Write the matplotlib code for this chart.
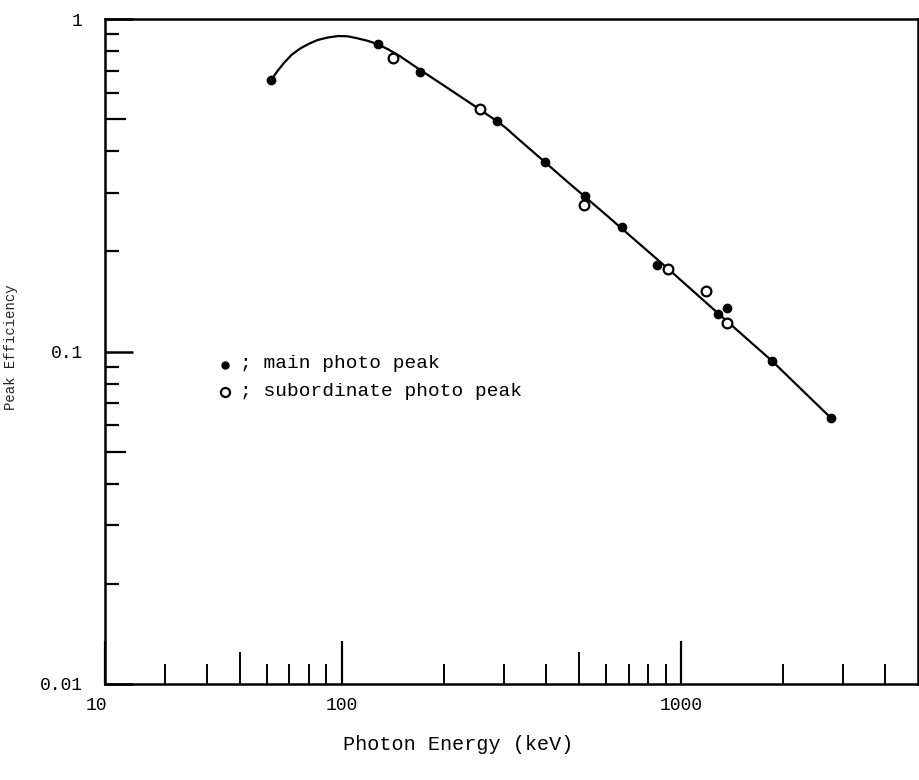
import matplotlib
matplotlib.use("Agg")
import matplotlib.pyplot as plt
from matplotlib.ticker import FixedLocator, NullFormatter

# ---- data ----
main_energy = [61.8, 127.6, 170, 287, 397, 520, 670, 848, 1288, 1365, 1859, 2768]
main_eff = [0.655, 0.839, 0.691, 0.493, 0.371, 0.294, 0.237, 0.182, 0.130, 0.135, 0.0938, 0.0631]

sub_energy = [141, 256, 517, 913, 1184, 1371]
sub_eff = [0.762, 0.536, 0.276, 0.177, 0.152, 0.122]

curve_energy = [61.8, 64.5, 67.3, 71.0, 75.4, 80.0, 84.8, 91.0, 97.7, 104, 111, 119, 127, 137, 148,
                170, 204, 256, 287, 305, 330, 397, 459, 600, 912, 1300, 1859, 2768]
curve_eff = [0.655, 0.697, 0.736, 0.780, 0.816, 0.843, 0.865, 0.880, 0.889, 0.887, 0.875, 0.860, 0.841, 0.810, 0.774,
             0.703, 0.622, 0.533, 0.492, 0.4695, 0.437, 0.371, 0.326, 0.258, 0.178, 0.129, 0.0935, 0.0631]

x_tick_values = [20, 100, 1000]
x_tick_labels = ["", "100", "1000"]
x_left_label = "10"
x_mid_ticks = [50, 500]
x_minor_ticks = [30, 40, 60, 70, 80, 90, 200, 300, 400, 600, 700, 800, 900, 2000, 3000, 4000]
y_tick_values = [1, 0.1, 0.01]
y_tick_labels = ["1", "0.1", "0.01"]
y_mid_ticks = [0.05, 0.5]
y_minor_ticks = [0.02, 0.03, 0.04, 0.06, 0.07, 0.08, 0.09, 0.2, 0.3, 0.4, 0.6, 0.7, 0.8, 0.9]

W, H = 919, 780
fig = plt.figure(figsize=(W / 100, H / 100), dpi=100)
left, right, top, bottom = 105, 918, 19, 684
ax = fig.add_axes([left / W, 1 - bottom / H, (right - left) / W, (bottom - top) / H])

mono = "Liberation Mono"

ax.plot(curve_energy, curve_eff, color="black", lw=1.6, zorder=2)
ax.plot(main_energy, main_eff, "o", color="black", ms=6, zorder=3)
ax.plot(sub_energy, sub_eff, "o", mfc="white", mec="black", mew=1.6, ms=7, zorder=3)

ax.set_xscale("log")
ax.set_yscale("log")
ax.set_xlim(20, 5000)
ax.set_ylim(0.01, 1)

for s in ax.spines.values():
    s.set_linewidth(1.8)

# x ticks
ax.xaxis.set_major_locator(FixedLocator(x_tick_values))
ax.set_xticklabels(x_tick_labels, fontfamily=mono, fontsize=13)
ax.xaxis.set_minor_locator(FixedLocator(x_minor_ticks))
ax.xaxis.set_minor_formatter(NullFormatter())
ax.tick_params(axis="x", which="major", direction="in", length=31, width=1.6, pad=9)
ax.tick_params(axis="x", which="minor", direction="in", length=14.5, width=1.4)
for xv in x_mid_ticks:
    ax.axvline(xv, ymin=0, ymax=31 / (bottom - top), color="black", lw=1.4)

# y ticks
ax.yaxis.set_major_locator(FixedLocator(y_tick_values))
ax.set_yticklabels(y_tick_labels, fontfamily=mono, fontsize=13)
ax.yaxis.set_minor_locator(FixedLocator(y_minor_ticks))
ax.yaxis.set_minor_formatter(NullFormatter())
ax.tick_params(axis="y", which="major", direction="in", length=20, width=1.8, pad=16)
ax.tick_params(axis="y", which="minor", direction="in", length=10, width=1.6)
for yv in y_mid_ticks:
    ax.axhline(yv, xmin=0, xmax=20 / (right - left), color="black", lw=1.6)

# left-end x label, set a little low like a subscript
fig.text(96 / W, 1 - 705 / H, x_left_label, fontfamily=mono, fontsize=13,
         ha="center", va="center")

# legend drawn as text
ax.plot([225 / W], [1 - 365 / H], "o", color="black", ms=5, transform=fig.transFigure, clip_on=False)
fig.text(240 / W, 1 - 364 / H, "; main photo peak", fontfamily=mono, fontsize=14,
         ha="left", va="center")
ax.plot([225 / W], [1 - 392 / H], "o", mfc="white", mec="black", mew=1.6, ms=6.5,
        transform=fig.transFigure, clip_on=False)
fig.text(240 / W, 1 - 391 / H, "; subordinate photo peak", fontfamily=mono, fontsize=14,
         ha="left", va="center")

fig.text(458 / W, 1 - 745 / H, "Photon Energy (keV)", fontfamily=mono, fontsize=14.5,
         ha="center", va="center")
fig.text(11 / W, 1 - 347 / H, "Peak Efficiency", fontfamily=mono, fontsize=10,
         rotation=90, ha="center", va="center", color="#222222")

fig.savefig("out.png", dpi=100)
